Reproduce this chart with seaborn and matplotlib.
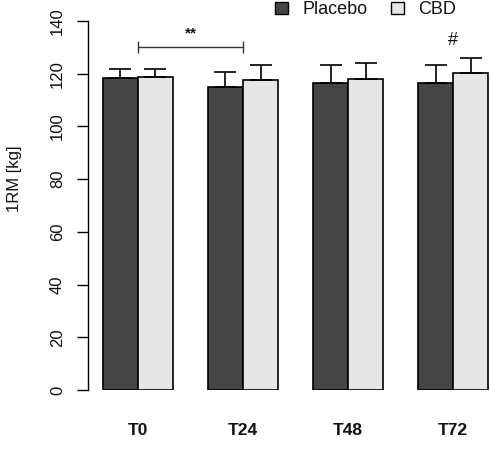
import seaborn as sns
import pandas as pd
import numpy as np
import matplotlib.pyplot as plt
from matplotlib.patches import Patch

# data
times = ["T0", "T24", "T48", "T72"]
groups = ["Placebo", "CBD"]
placebo_mean = [118.2, 114.8, 116.4, 116.4]
placebo_sd = [3.6, 5.8, 6.9, 6.9]
cbd_mean = [118.9, 117.6, 118.1, 120.1]
cbd_sd = [2.9, 5.7, 5.8, 5.7]
colors = {"Placebo": "#454545", "CBD": "#e6e6e6"}

df = pd.DataFrame({
    "time": times * 2,
    "group": ["Placebo"] * 4 + ["CBD"] * 4,
    "value": placebo_mean + cbd_mean,
})
sds = {"Placebo": placebo_sd, "CBD": cbd_sd}

sns.set_theme(style="ticks")
plt.rcParams["font.family"] = ["Liberation Sans", "DejaVu Sans"]
plt.rcParams["text.color"] = "#111111"
plt.rcParams["xtick.color"] = "#111111"
plt.rcParams["ytick.color"] = "#111111"

fig = plt.figure(figsize=(4.9, 4.61), dpi=100)
ax = fig.add_axes([88 / 490, 71 / 461, 1 - 88 / 490, 369 / 461])

sns.barplot(data=df, x="time", y="value", hue="group", hue_order=groups,
            order=times, palette=colors, width=0.667, edgecolor="black",
            linewidth=1.2, errorbar=None, legend=False, ax=ax)

# one-sided error bars (upwards only)
for cont, g in zip(ax.containers, groups):
    xs = [p.get_x() + p.get_width() / 2 for p in cont]
    hs = [p.get_height() for p in cont]
    ax.errorbar(xs, hs, yerr=[np.zeros(len(hs)), sds[g]], fmt="none",
                ecolor="black", elinewidth=1.2, capsize=8, capthick=1.2,
                zorder=1)

ax.set_ylim(0, 140)
ax.set_xlim(-0.476, 3.352)
ax.set_yticks(range(0, 141, 20))
ax.tick_params(axis="y", length=8, width=1, pad=8.5, labelsize=12,
               labelrotation=90, color="black")
for lab in ax.get_yticklabels():
    lab.set_va("center")
ax.tick_params(axis="x", length=0, pad=24, labelsize=12.5)
for lab in ax.get_xticklabels():
    lab.set_fontweight("bold")
sns.despine(ax=ax, bottom=True, right=True, top=True)
ax.spines["left"].set_linewidth(1)
ax.spines["left"].set_color("black")
ax.set_xlabel("")
ax.set_ylabel("")
fig.text(15 / 490, 1 - 179 / 461, "1RM [kg]", rotation=90, ha="center",
         va="center", fontsize=12)

# significance marks
ax.errorbar([0.5], [130.2], xerr=[[0.5], [0.5]], fmt="none", ecolor="#333333",
            elinewidth=1, capsize=4.5, capthick=1, clip_on=False)
ax.text(0.5, 132.5, "**", ha="center", va="bottom", fontsize=11,
        fontweight="bold")
ax.text(3.0, 132.5, "#", ha="center", va="center", fontsize=13)

handles = [Patch(facecolor=colors[g], edgecolor="black", linewidth=1)
           for g in groups]
fig.legend(handles, groups, loc="center right", ncol=2, frameon=False,
           bbox_to_anchor=(465 / 490, 1 - 10 / 461), fontsize=13,
           handlelength=0.7, handleheight=0.7, handletextpad=0.8,
           columnspacing=1.3, borderpad=0)

fig.savefig("out.png", dpi=100)
